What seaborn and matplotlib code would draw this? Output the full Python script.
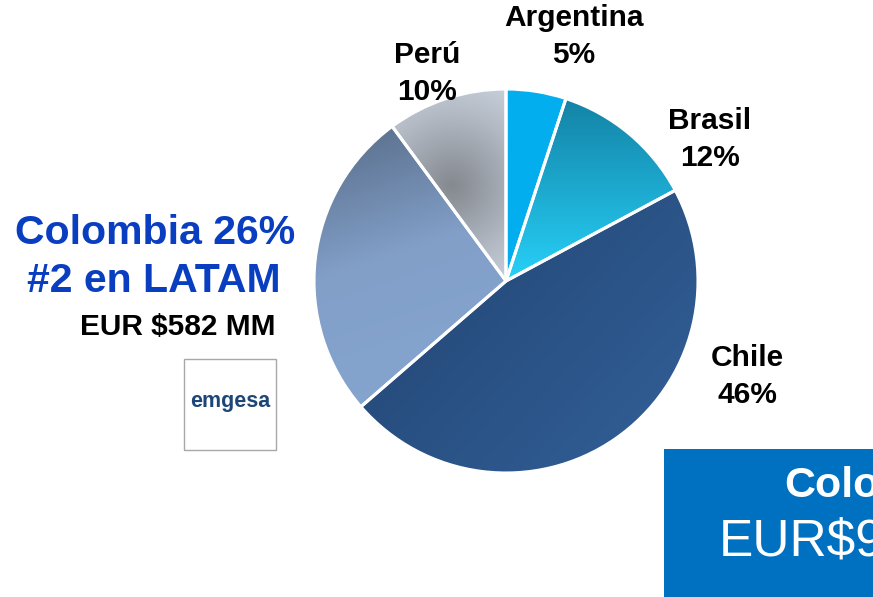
import numpy as np
import matplotlib.pyplot as plt
import seaborn as sns
from matplotlib.colors import LinearSegmentedColormap
from matplotlib.patches import Rectangle

sns.set_theme(style="white")
plt.rcParams['font.family'] = ['Liberation Sans', 'DejaVu Sans']

# data
countries = ["Argentina", "Brasil", "Chile", "Colombia", "Perú"]
shares = [5, 12, 46, 26, 10]

W, H = 873, 597
fig = plt.figure(figsize=(W / 100, H / 100), dpi=100)

# pie centre and radius in pixels
cx, cy, r = 506, 281, 192
ax = fig.add_axes([(cx - r) / W, (H - cy - r) / H, 2 * r / W, 2 * r / H])

solid = ["#03AEEE", "#1F9FCC", "#284F84", "#7390B6", "#B4BCC8"]
wedges, _ = ax.pie(shares, colors=solid, startangle=90, counterclock=False,
                   wedgeprops=dict(edgecolor="white", linewidth=2.2))

ys, xs = np.mgrid[1:-1:300j, -1:1:300j]

def linear(p0, p1):
    d = np.array(p1) - np.array(p0)
    t = ((xs - p0[0]) * d[0] + (ys - p0[1]) * d[1]) / (d @ d)
    return np.clip(t, 0, 1)

def radial(c, rad):
    return np.clip(np.hypot(xs - c[0], ys - c[1]) / rad, 0, 1)

# gradient fills (Brasil, Chile, Colombia, Perú)
fills = {
    1: (linear((0.3, 0.95), (0.3, 0.0)), ["#1383A6", "#27D0F8"]),
    2: (linear((-0.6, 0.2), (0.6, -0.9)), ["#234775", "#305C93"]),
    3: (linear((-0.6, 0.8), (-0.2, -0.4)), ["#5E7492", "#829FC8", "#84A4CE"]),
    4: (radial((-0.28, 0.5), 0.75), ["#858990", "#B3BAC4", "#D8E2EE"]),
}
for i, (grid, cols) in fills.items():
    cmap = LinearSegmentedColormap.from_list(f"g{i}", cols)
    im = ax.imshow(grid, cmap=cmap, extent=(-1, 1, -1, 1), zorder=2,
                   interpolation="bilinear")
    im.set_clip_path(wedges[i])
    wedges[i].set_facecolor("none")
for w in wedges:
    w.set_zorder(3)
    w.set_clip_on(False)

ax.set_xlim(-1, 1)
ax.set_ylim(-1, 1)
ax.set_aspect("equal")
ax.axis("off")

# slice labels (Colombia handled separately)
label_pos = {"Argentina": (574, 18), "Brasil": (710, 121), "Chile": (747, 358), "Perú": (427, 55)}
for name, pct in zip(countries, shares):
    if name not in label_pos:
        continue
    x, y = label_pos[name]
    fig.text(x / W, 1 - y / H, name, ha="center", va="center", fontsize=21.5,
             fontweight="bold", color="black")
    fig.text(x / W, 1 - (y + 37) / H, f"{pct}%", ha="center", va="center",
             fontsize=21.5, fontweight="bold", color="black")

col_share = shares[countries.index("Colombia")]
fig.text(155 / W, 1 - 233 / H, f"Colombia {col_share}%", ha="center", va="center",
         fontsize=29.5, fontweight="bold", color="#0A3EC0")
fig.text(154 / W, 1 - 281 / H, "#2 en LATAM", ha="center", va="center",
         fontsize=29.5, fontweight="bold", color="#0A3EC0")
fig.text(276 / W, 1 - 327 / H, "EUR $582 MM", ha="right", va="center",
         fontsize=21.5, fontweight="bold", color="black")

# emgesa logo box
fig.patches.append(Rectangle((184 / W, 1 - 450 / H), 92 / W, 91 / H,
                             transform=fig.transFigure, facecolor="white",
                             edgecolor="#A8A8A8", linewidth=1))
fig.text(230 / W, 1 - 401 / H, "emgesa", ha="center", va="center", fontsize=15.5,
         color="#1C4678", fontweight="semibold")

# blue box bottom right
fig.patches.append(Rectangle((664 / W, 0), 1 - 664 / W, (H - 449) / H,
                             transform=fig.transFigure, facecolor="#0070C0",
                             edgecolor="none"))
fig.text(784 / W, 1 - 486 / H, "Colombia", ha="left", va="center", fontsize=31,
         fontweight="bold", color="white")
fig.text(719 / W, 1 - 542 / H, "EUR$9", ha="left", va="center", fontsize=37,
         color="white")

fig.savefig("out.png", dpi=100)
